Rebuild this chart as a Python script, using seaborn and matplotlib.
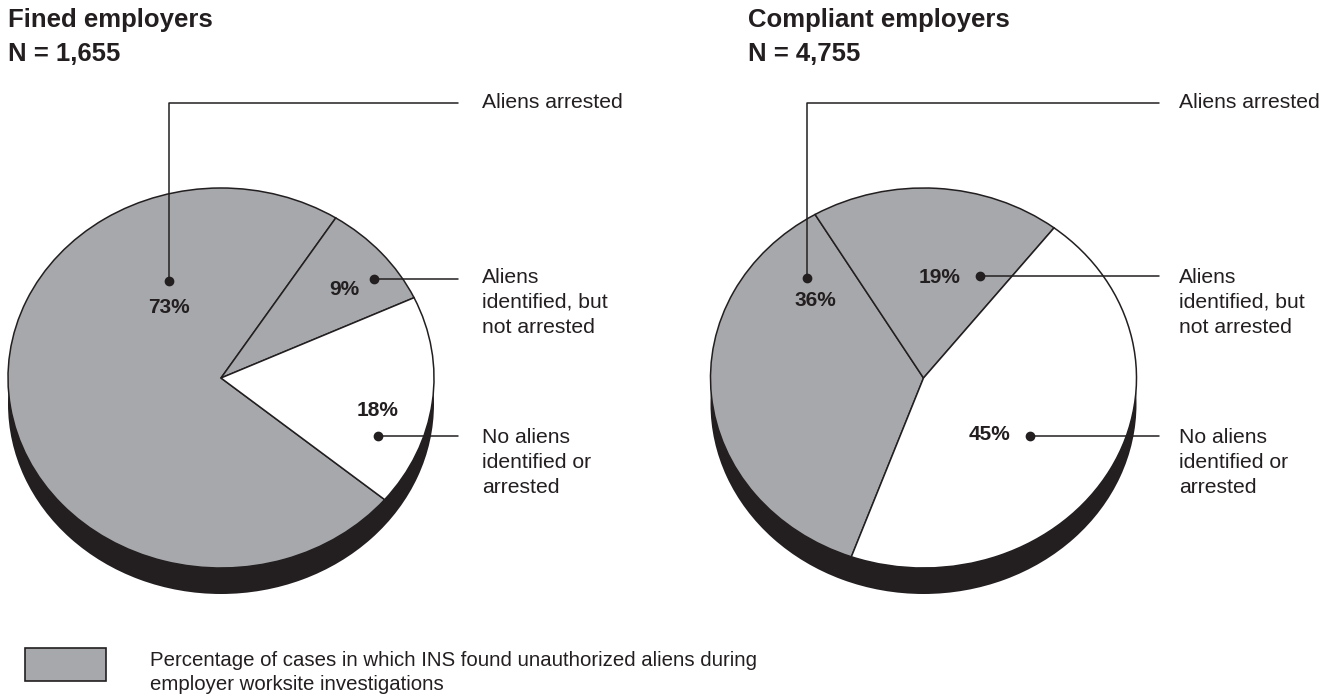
import numpy as np
import matplotlib
matplotlib.use('Agg')
import matplotlib.pyplot as plt
import seaborn as sns
from matplotlib.patches import Rectangle

sns.set_theme(style='white')
plt.rcParams['font.family'] = ['Liberation Sans', 'DejaVu Sans']

# ---- data ----
groups = ['Fined employers', 'Compliant employers']
n_cases = [1655, 4755]
categories = ['Aliens arrested', 'Aliens identified, but not arrested', 'No aliens identified or arrested']
category_lines = [['Aliens arrested'],
                  ['Aliens', 'identified, but', 'not arrested'],
                  ['No aliens', 'identified or', 'arrested']]
fined_pct = [73, 9, 18]
compliant_pct = [36, 19, 45]
legend_lines = ['Percentage of cases in which INS found unauthorized aliens during',
                'employer worksite investigations']

# ---- style / layout ----
W, H = 1329, 696
GREY = '#a7a8ab'
DARK = '#231f20'
slice_colors = [GREY, GREY, 'white']

# pie geometry in pixels: centre x, centre y, radius x, radius y, shadow depth
pies = [dict(cx=221, cy=378, rx=213, ry=190, depth=26, start=-39.8, title_x=8, line_end=458, label_x=482),
        dict(cx=923.5, cy=378, rx=213, ry=190, depth=26, start=250.2, title_x=748, line_end=1159, label_x=1179)]
# dot position (pie-normalised u, v) and label offset (dx, dy, ha) for each slice
dots = [[(-0.244, 0.511), (0.718, 0.521), (0.737, -0.305)],
        [(-0.547, 0.526), (0.265, 0.537), (0.500, -0.305)]]
pct_offsets = [[(0, 25, 'center'), (-15, 8, 'right'), (0, -27, 'center')],
               [(8, 20, 'center'), (-19, 0, 'right'), (-20, -3, 'right')]]
top_line_y = 103
label_baselines = [108, 283, 443]
line_gap = 25

fig = plt.figure(figsize=(W / 100, H / 100), dpi=100)
fig.patch.set_facecolor('white')

over = fig.add_axes([0, 0, 1, 1], zorder=5)
over.set_xlim(0, W)
over.set_ylim(H, 0)
over.axis('off')
over.patch.set_alpha(0)

for gi, (p, vals) in enumerate(zip(pies, [fined_pct, compliant_pct])):
    cx, cy, rx, ry, d = p['cx'], p['cy'], p['rx'], p['ry'], p['depth']
    pax = fig.add_axes([(cx - rx) / W, 1 - (cy + ry + d) / H, 2 * rx / W, (2 * ry + d) / H])
    # dark base (the side of the disc)
    pax.pie([1], colors=[DARK], radius=1, center=(0, -d / ry), wedgeprops=dict(linewidth=0))
    pax.pie(vals, colors=slice_colors, radius=1, startangle=p['start'], counterclock=False,
            wedgeprops=dict(edgecolor=DARK, linewidth=1.1))
    pax.set_aspect('auto')
    pax.set_xlim(-1, 1)
    pax.set_ylim(-1 - d / ry, 1)
    pax.axis('off')

    # titles
    over.text(p['title_x'], 26.5, groups[gi], fontsize=18.5, fontweight='bold', color=DARK, va='baseline')
    over.text(p['title_x'], 61, f'N = {n_cases[gi]:,}', fontsize=18.5, fontweight='bold', color=DARK, va='baseline')

    for si, v in enumerate(vals):
        u, w = dots[gi][si]
        x0, y0 = cx + u * rx, cy - w * ry
        over.plot([x0], [y0], 'o', color=DARK, markersize=6)
        if si == 0:
            over.plot([x0, x0, p['line_end']], [y0, top_line_y, top_line_y], color=DARK, lw=1.1)
        else:
            over.plot([x0, p['line_end']], [y0, y0], color=DARK, lw=1.1)
        dx, dy, ha = pct_offsets[gi][si]
        over.text(x0 + dx, y0 + dy + 7.5, f'{v}%', fontsize=15, fontweight='bold', color=DARK,
                  ha=ha, va='baseline')
        for li, line in enumerate(category_lines[si]):
            over.text(p['label_x'], label_baselines[si] + li * line_gap, line, fontsize=15.2,
                      color=DARK, va='baseline')

# legend
over.add_patch(Rectangle((25, 648), 81, 33, facecolor=GREY, edgecolor=DARK, lw=1.2))
for li, line in enumerate(legend_lines):
    over.text(150, 666 + li * 24, line, fontsize=14.7, color=DARK, va='baseline')

fig.savefig('out.png', dpi=100)
